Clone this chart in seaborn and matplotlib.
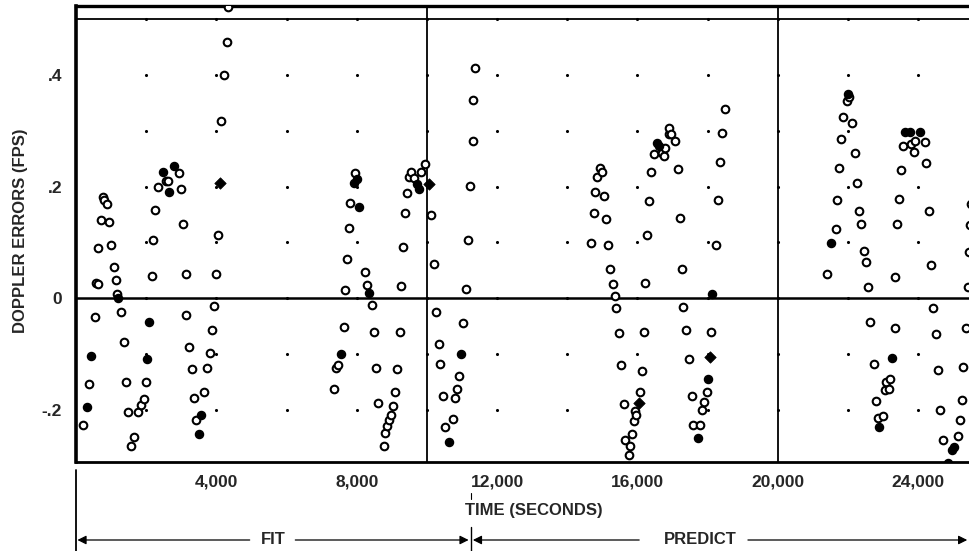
import matplotlib
matplotlib.use("Agg")
import matplotlib.pyplot as plt
import matplotlib.transforms as mtransforms
from matplotlib.lines import Line2D
import seaborn as sns
import pandas as pd

sns.set_style("white")
plt.rcParams['font.family'] = ['Liberation Sans', 'DejaVu Sans']
plt.rcParams['font.weight'] = 'bold'

# open circles (time s, doppler error fps)
open_t = [200, 371, 543, 571, 629, 629, 714, 771, 800, 886, 943, 1000, 1086, 1143, 1171, 1286,
          1371, 1429, 1486, 1571, 1657, 1771, 1857, 1943, 2000, 2171, 2200, 2257, 2343, 2571,
          2629, 2943, 3000, 3057, 3143, 3143, 3229, 3314, 3371, 3429, 3657, 3743, 3829, 3886,
          3943, 4000, 4057, 4143, 4229, 4314, 4343,
          7343, 7400, 7457, 7629, 7657, 7714, 7771, 7800, 7943, 8229, 8286, 8429, 8486, 8543,
          8600, 8771, 8800, 8857, 8914, 8971, 9029, 9086, 9143, 9229, 9257, 9314, 9371, 9429,
          9486, 9543, 9629, 9829, 9943, 10114, 10200,
          10257, 10343, 10371, 10457, 10514, 10743, 10800, 10857, 10914, 11029, 11114, 11171,
          11229, 11314, 11314, 11371,
          14686, 14771, 14800, 14857, 14943, 15000, 15057, 15114, 15171, 15229, 15314, 15371,
          15400, 15486, 15543, 15629, 15657, 15771, 15800, 15857, 15914, 15943, 15971, 16086,
          16143, 16200, 16229, 16286, 16343, 16400, 16486, 16714, 16771, 16800, 16886, 16914,
          16971, 17057, 17143, 17200, 17257, 17286, 17371, 17457, 17543, 17571, 17771, 17829,
          17886, 17971, 18086, 18229, 18286, 18343, 18400, 18486,
          21400, 21657, 21686, 21743, 21800, 21857, 21971, 22029, 22114, 22200, 22257, 22314,
          22371, 22457, 22514, 22571, 22629, 22743, 22800, 22857, 23000, 23057, 23086, 23171,
          23200, 23343, 23343, 23400, 23457, 23514, 23571, 23800, 23886, 23914, 24200, 24229,
          24314, 24371, 24429, 24514, 24571, 24629, 24714, 25143, 25200, 25257, 25286, 25371,
          25429, 25457, 25486, 25514]
open_err = [-0.227, -0.154, -0.033, 0.027, 0.025, 0.09, 0.14, 0.182, 0.176, 0.169, 0.137, 0.096,
            0.055, 0.032, 0.007, -0.025, -0.078, -0.151, -0.205, -0.265, -0.249, -0.205, -0.192,
            -0.181, -0.151, 0.04, 0.105, 0.158, 0.2, 0.21, 0.21, 0.225, 0.195, 0.133, 0.043,
            -0.031, -0.087, -0.127, -0.18, -0.218, -0.168, -0.125, -0.098, -0.058, -0.015, 0.044,
            0.113, 0.317, 0.40, 0.46, 0.522,
            -0.163, -0.125, -0.12, -0.051, 0.014, 0.071, 0.125, 0.171, 0.224, 0.046, 0.024,
            -0.013, -0.061, -0.125, -0.189, -0.265, -0.242, -0.229, -0.218, -0.209, -0.193,
            -0.169, -0.127, -0.061, 0.022, 0.091, 0.153, 0.189, 0.218, 0.227, 0.216, 0.227,
            0.24, 0.149, 0.062,
            -0.025, -0.082, -0.118, -0.176, -0.231, -0.216, -0.18, -0.163, -0.14, -0.045, 0.016,
            0.104, 0.202, 0.282, 0.355, 0.413,
            0.098, 0.153, 0.191, 0.218, 0.234, 0.226, 0.184, 0.142, 0.096, 0.053, 0.025, 0.004,
            -0.018, -0.063, -0.12, -0.19, -0.254, -0.282, -0.266, -0.243, -0.22, -0.202, -0.21,
            -0.168, -0.131, -0.06, 0.027, 0.113, 0.175, 0.226, 0.258, 0.26, 0.255, 0.269, 0.295,
            0.305, 0.295, 0.282, 0.231, 0.143, 0.053, -0.016, -0.057, -0.109, -0.175, -0.227,
            -0.227, -0.2, -0.186, -0.168, -0.06, 0.095, 0.176, 0.244, 0.296, 0.34,
            0.044, 0.124, 0.176, 0.233, 0.285, 0.324, 0.353, 0.36, 0.315, 0.26, 0.207, 0.156,
            0.133, 0.085, 0.064, 0.02, -0.042, -0.118, -0.185, -0.215, -0.211, -0.165, -0.15,
            -0.163, -0.145, -0.053, 0.038, 0.133, 0.178, 0.229, 0.273, 0.276, 0.262, 0.282, 0.28,
            0.242, 0.156, 0.06, -0.018, -0.065, -0.129, -0.2, -0.255, -0.247, -0.218, -0.182,
            -0.124, -0.053, 0.02, 0.082, 0.131, 0.169]

# solid (filled) circles
filled_t = [314, 429, 1200, 2029, 2086, 2486, 2657, 2800, 3514, 3571, 7543, 7914, 8000, 8057,
            8343, 9714, 9771, 10629, 10971, 16571, 16629, 17714, 18000, 18114, 21514, 22000,
            22886, 23257, 23629, 23771, 24057, 24857, 24971, 25029]
filled_err = [-0.196, -0.104, 0.0, -0.11, -0.042, 0.226, 0.19, 0.237, -0.244, -0.21, -0.1, 0.207,
              0.213, 0.164, 0.01, 0.205, 0.195, -0.258, -0.101, 0.278, 0.272, -0.251, -0.145,
              0.007, 0.098, 0.367, -0.231, -0.107, 0.298, 0.298, 0.298, -0.296, -0.273, -0.267]

# diamonds
diamond_t = [4114, 10057, 16057, 18057]
diamond_err = [0.207, 0.205, -0.188, -0.105]

# grid marks
grid_t = [2000, 4000, 6000, 8000, 10000, 12000, 14000, 16000, 18000, 20000, 22000, 24000]
grid_err = [-0.2, -0.1, 0.0, 0.1, 0.2, 0.3, 0.4, 0.5]

xtick_vals = [4000, 8000, 12000, 16000, 20000, 24000]
xtick_labels = ["4,000", "8,000", "12,000", "16,000", "20,000", "24,000"]
ytick_vals = [-0.2, 0, 0.2, 0.4]
ytick_labels = ["-.2", "0", ".2", ".4"]

fig = plt.figure(figsize=(9.69, 5.51), dpi=100)
ax = fig.add_axes([76 / 969, 89 / 551, 893 / 969, 456 / 551])

grid_df = pd.DataFrame([(t, e) for t in grid_t for e in grid_err], columns=["t", "err"])
sns.scatterplot(data=grid_df, x="t", y="err", ax=ax, s=5, color="black", linewidth=0)

ax.axhline(0, color="black", lw=1.8, zorder=1)
ax.axhline(0.5, color="black", lw=1.3, zorder=1)
ax.axvline(10000, color="black", lw=1.3, zorder=1)
ax.axvline(20000, color="black", lw=1.3, zorder=1)

sns.scatterplot(x=open_t, y=open_err, ax=ax, s=30, marker="o", facecolor="white",
                edgecolor="black", linewidth=1.5, zorder=3)
sns.scatterplot(x=filled_t, y=filled_err, ax=ax, s=34, marker="o", color="black",
                edgecolor="black", linewidth=1, zorder=4)
sns.scatterplot(x=diamond_t, y=diamond_err, ax=ax, s=34, marker="D", color="black",
                edgecolor="black", linewidth=0.5, zorder=4)

ax.set_xlim(0, 25450)
ax.set_ylim(-0.294, 0.524)
ax.set_xticks(xtick_vals)
ax.set_xticklabels(xtick_labels, fontsize=12.5, fontweight="bold")
ax.set_yticks(ytick_vals)
ax.set_yticklabels(ytick_labels, fontsize=12.5, fontweight="bold")
ax.tick_params(axis="x", length=0, pad=9)
ax.tick_params(axis="y", length=0, pad=10)
ax.set_xlabel("")
ax.set_ylabel("DOPPLER ERRORS (FPS)", fontsize=12, fontweight="bold")
ax.yaxis.set_label_coords(-0.054, 0.507)

for side in ["left", "top", "bottom"]:
    ax.spines[side].set_visible(True)
    ax.spines[side].set_color("black")
ax.spines["left"].set_linewidth(2.6)
ax.spines["top"].set_linewidth(2.4)
ax.spines["bottom"].set_linewidth(2.0)
ax.spines["right"].set_visible(False)

# lower annotation: time label and FIT / PREDICT spans
tr = mtransforms.blended_transform_factory(ax.transData, fig.transFigure)
ax.text(13050, 1 - 510 / 551, "TIME (SECONDS)", transform=tr, ha="center", va="center",
        fontsize=12, fontweight="bold")

arrow_y = 1 - 540 / 551
split_t = 11250
ax.add_line(Line2D([0, 0], [0.0, 1 - 470 / 551], transform=tr, color="black", lw=1.3,
                   clip_on=False))
ax.add_line(Line2D([split_t, split_t], [0.0, 1 - 527 / 551], transform=tr, color="black",
                   lw=1.0, clip_on=False))
ax.add_line(Line2D([split_t, split_t], [1 - 499 / 551, 1 - 493 / 551], transform=tr,
                   color="black", lw=0.8, clip_on=False))

arrow_kw = dict(arrowstyle="-|>", color="black", lw=0.9, mutation_scale=13,
                shrinkA=0, shrinkB=0)
ax.annotate("", xy=(40, arrow_y), xytext=(4950, arrow_y), xycoords=tr, textcoords=tr,
            arrowprops=arrow_kw, annotation_clip=False)
ax.annotate("", xy=(split_t - 60, arrow_y), xytext=(6250, arrow_y), xycoords=tr,
            textcoords=tr, arrowprops=arrow_kw, annotation_clip=False)
ax.text(5620, arrow_y, "FIT", transform=tr, ha="center", va="center", fontsize=12,
        fontweight="bold")
ax.annotate("", xy=(split_t + 60, arrow_y), xytext=(16050, arrow_y), xycoords=tr,
            textcoords=tr, arrowprops=arrow_kw, annotation_clip=False)
ax.annotate("", xy=(25400, arrow_y), xytext=(19150, arrow_y), xycoords=tr, textcoords=tr,
            arrowprops=arrow_kw, annotation_clip=False)
ax.text(17800, arrow_y, "PREDICT", transform=tr, ha="center", va="center", fontsize=12,
        fontweight="bold")

fig.savefig("out.png", dpi=100, facecolor="white")
